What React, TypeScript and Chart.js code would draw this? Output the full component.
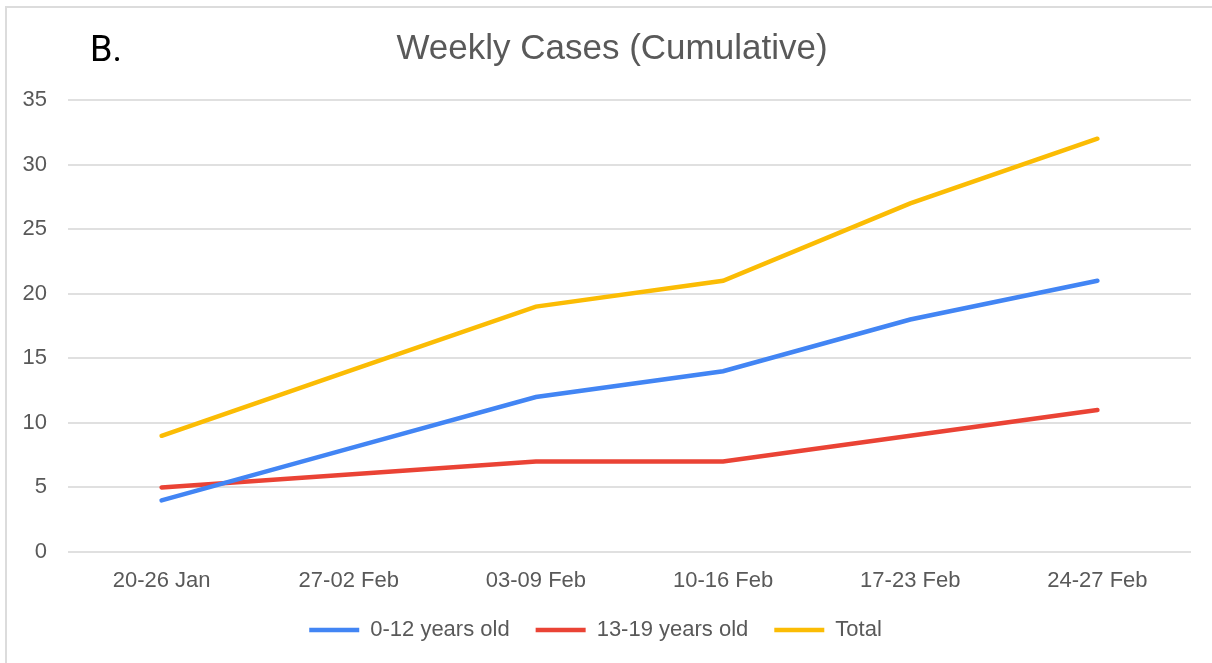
import React, { useEffect, useRef } from "react";
import { Chart, registerables } from "chart.js";

Chart.register(...registerables);

const categories = ["20-26 Jan", "27-02 Feb", "03-09 Feb", "10-16 Feb", "17-23 Feb", "24-27 Feb"];
const age0to12 = [4, 8, 12, 14, 18, 21];
const age13to19 = [5, 6, 7, 7, 9, 11];
const total = [9, 14, 19, 21, 27, 32];
const yTicks = [0, 5, 10, 15, 20, 25, 30, 35];

const TEXT = "#595959";
const FONT = "'Liberation Sans', Arial, sans-serif";

const titlePlugin = {
  id: "customTitle",
  afterDraw(chart: any) {
    const ctx = chart.ctx;
    ctx.save();
    ctx.textBaseline = "alphabetic";
    ctx.fillStyle = "#000000";
    ctx.textAlign = "left";
    ctx.font = "36px Roboto";
    ctx.fillText("B.", 90, 61);
    ctx.fillStyle = TEXT;
    ctx.textAlign = "center";
    ctx.font = "35px " + FONT;
    ctx.fillText("Weekly Cases (Cumulative)", 612, 59);
    ctx.restore();
  },
};

export default function App() {
  const ref = useRef<HTMLCanvasElement>(null);
  useEffect(() => {
    document.body.style.margin = "0";
    const ds = (label: string, data: number[], color: string) => ({
      label,
      data,
      borderColor: color,
      backgroundColor: color,
      borderWidth: 4.5,
      borderCapStyle: "round" as const,
      pointRadius: 0,
      pointHoverRadius: 0,
      tension: 0,
      fill: false,
    });
    const chart = new Chart(ref.current!, {
      type: "line",
      data: {
        labels: categories,
        datasets: [
          ds("0-12 years old", age0to12, "#4285F4"),
          ds("13-19 years old", age13to19, "#EA4335"),
          ds("Total", total, "#FBBC04"),
        ],
      },
      options: {
        animation: false,
        responsive: false,
        layout: { padding: { top: 100, left: 0, right: 21, bottom: 12 } },
        plugins: {
          title: { display: false },
          tooltip: { enabled: false },
          legend: {
            position: "bottom",
            labels: {
              usePointStyle: true,
              pointStyle: "line",
              pointStyleWidth: 50,
              padding: 26,
              color: TEXT,
              font: { family: FONT, size: 22 },
            },
          },
        },
        scales: {
          x: {
            offset: true,
            clip: false,
            afterFit(scale: any) {
              scale.height = 41;
            },
            grid: { display: false, drawTicks: false },
            border: { display: false },
            ticks: {
              color: TEXT,
              padding: 16,
              maxRotation: 0,
              font: { family: FONT, size: 22 },
            },
          },
          y: {
            min: 0,
            max: 35,
            afterFit(scale: any) {
              scale.width = 68;
            },
            afterBuildTicks(scale: any) {
              scale.ticks = yTicks.map((v) => ({ value: v }));
            },
            grid: { color: "#e0e0e0", lineWidth: 2, drawTicks: false },
            border: { display: false },
            ticks: {
              color: TEXT,
              padding: 21,
              font: { family: FONT, size: 22 },
            },
          },
        },
      },
      plugins: [titlePlugin],
    });
    return () => chart.destroy();
  }, []);
  return (
    <div style={{ position: "relative", width: 1212, height: 663, background: "#fff", overflow: "hidden" }}>
      <div
        style={{
          position: "absolute",
          left: 5,
          top: 6,
          width: 1300,
          height: 700,
          border: "2px solid #dcdcdc",
        }}
      />
      <canvas ref={ref} width={1212} height={663} style={{ position: "absolute", left: 0, top: 0 }} />
    </div>
  );
}
